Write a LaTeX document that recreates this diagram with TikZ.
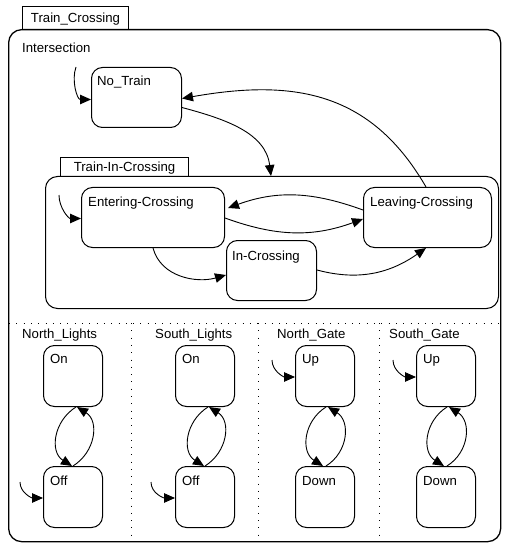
\documentclass[tikz,border=0pt]{standalone}
\usepackage{fontspec}
\setmainfont{Liberation Sans}
\usetikzlibrary{arrows.meta}
\begin{document}
\begin{tikzpicture}[x=1pt,y=1pt,
  every node/.style={font=\fontsize{13.2}{16}\selectfont},
  st/.style={draw, line width=1pt, rounded corners=11, anchor=north west, inner sep=0, minimum height=60},
  sm/.style={st, minimum width=59, minimum height=61},
  lbl/.style={anchor=base west, inner sep=0},
  tr/.style={line width=0.9pt, -{Triangle[length=11pt,width=9.5pt]}},
  downarc/.style={out=212,in=148,looseness=1.15},
  uparc/.style={out=32,in=-32,looseness=1.15},
  dots/.style={line width=1pt, dash pattern=on 1pt off 6.3pt},
  tab/.style={draw, line width=1pt, anchor=north west, inner sep=0, text height=9.5, text depth=0}
]
\useasboundingbox (0,0) rectangle (507,-545);

% outer superstate
\node[draw, line width=1.3pt, rounded corners=13, anchor=north west, inner sep=0,
      minimum width=492, minimum height=512] (outer) at (8,-29) {};
\node[tab, minimum width=106, minimum height=23] (tctab) at (22,-6) {Train\_Crossing};

% Intersection region
\node[lbl] (inter) at (22,-53) {Intersection};
\node[st, minimum width=90] (nt) at (91,-67) {};
\node[lbl] (ntt) at ([shift={(6,-19)}]nt.north west) {No\_Train};
\coordinate (nti) at (76,-67);
\draw[tr] (nti) to[out=-110,in=180] ([yshift=-2]nt.west);

% Train-In-Crossing
\node[draw, line width=1pt, rounded corners=12, anchor=north west, inner sep=0,
      minimum width=453, minimum height=132] (tic) at (45,-176) {};
\node[tab, minimum width=128, minimum height=19] (tictab) at (60,-157) {Train-In-Crossing};

\node[st, minimum width=143] (ec) at (81,-187) {};
\node[lbl] (ect) at ([shift={(7,-20)}]ec.north west) {Entering-Crossing};
\node[st, minimum width=90] (ic) at (226,-240) {};
\node[lbl] (ict) at ([shift={(6,-20)}]ic.north west) {In-Crossing};
\node[st, minimum width=128] (lc) at (363,-187) {};
\node[lbl] (lct) at ([shift={(7,-20)}]lc.north west) {Leaving-Crossing};

\coordinate (eci) at (59,-195);
\draw[tr] (eci) to[out=-90,in=180] ([yshift=-1]ec.west);

\draw[tr] ([yshift=-10]nt.east) to[out=-15,in=97] ([xshift=226]tic.north west);
\draw[tr] ([xshift=63]lc.north west) to[out=120,in=10,looseness=1.1] ([yshift=-1]nt.east);
\draw[tr] ([yshift=-23]lc.north west) to[out=160,in=20] ([xshift=3,yshift=-21]ec.north east);
\draw[tr] ([yshift=-31]ec.north east) to[out=-20,in=200] ([yshift=-32]lc.north west);
\draw[tr] ([xshift=72]ec.south west) to[out=-75,in=196] ([yshift=-35]ic.north west);
\draw[tr] ([yshift=-30]ic.north east) to[out=-15,in=215] ([xshift=63]lc.south west);

% concurrent regions separators
\draw[dots] (9,-323) -- (500,-323);
\draw[dots] (131,-323) -- (131,-541);
\draw[dots] (258,-323) -- (258,-541);
\draw[dots] (379,-323) -- (379,-541);

\node[lbl] (nlr) at (22,-338) {North\_Lights};
\node[lbl] (slr) at (155,-338) {South\_Lights};
\node[lbl] (ngr) at (277,-338) {North\_Gate};
\node[lbl] (sgr) at (389,-338) {South\_Gate};

% North_Lights
\node[sm] (nlon) at (43,-345) {};
\node[lbl] (nlont) at ([shift={(7,-18)}]nlon.north west) {On};
\node[sm] (nloff) at (43,-466) {};
\node[lbl] (nlofft) at ([shift={(7,-19)}]nloff.north west) {Off};
\draw[tr] ([xshift=3]nlon.south) to[downarc] ([xshift=-1]nloff.north);
\draw[tr] ([xshift=0]nloff.north) to[uparc] ([xshift=4]nlon.south);
\coordinate (nli) at (20,-482);
\draw[tr] (nli) to[out=-90,in=180] ([yshift=-1]nloff.west);

% South_Lights
\node[sm] (slon) at (175,-345) {};
\node[lbl] (slont) at ([shift={(7,-18)}]slon.north west) {On};
\node[sm] (sloff) at (175,-466) {};
\node[lbl] (slofft) at ([shift={(7,-19)}]sloff.north west) {Off};
\draw[tr] ([xshift=3]slon.south) to[downarc] ([xshift=-1]sloff.north);
\draw[tr] ([xshift=0]sloff.north) to[uparc] ([xshift=4]slon.south);
\coordinate (sli) at (151,-482);
\draw[tr] (sli) to[out=-90,in=180] ([yshift=-1]sloff.west);

% North_Gate
\node[sm] (ngup) at (295,-345) {};
\node[lbl] (ngupt) at ([shift={(7,-18)}]ngup.north west) {Up};
\node[sm] (ngdn) at (295,-466) {};
\node[lbl] (ngdnt) at ([shift={(7,-19)}]ngdn.north west) {Down};
\draw[tr] ([xshift=1]ngup.south) to[downarc] ([xshift=-2]ngdn.north);
\draw[tr] ([xshift=1]ngdn.north) to[uparc] ([xshift=3]ngup.south);
\coordinate (ngi) at (272,-360);
\draw[tr] (ngi) to[out=-90,in=180] ([yshift=-1]ngup.west);

% South_Gate
\node[sm] (sgup) at (416,-345) {};
\node[lbl] (sgupt) at ([shift={(7,-18)}]sgup.north west) {Up};
\node[sm] (sgdn) at (416,-466) {};
\node[lbl] (sgdnt) at ([shift={(7,-19)}]sgdn.north west) {Down};
\draw[tr] ([xshift=1]sgup.south) to[downarc] ([xshift=-2]sgdn.north);
\draw[tr] ([xshift=1]sgdn.north) to[uparc] ([xshift=3]sgup.south);
\coordinate (sgi) at (393,-360);
\draw[tr] (sgi) to[out=-90,in=180] ([yshift=-1]sgup.west);
\end{tikzpicture}
\end{document}
